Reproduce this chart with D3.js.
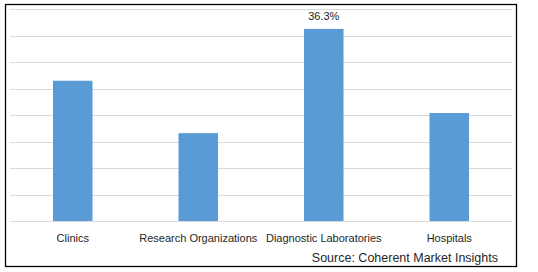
<!DOCTYPE html>
<html>
<head>
<meta charset="utf-8">
<script src="https://cdn.jsdelivr.net/npm/d3@7"></script>
<style>
  body { margin: 0; background: #fff; }
  svg { display: block; }
  text { font-family: "Liberation Sans", Arial, sans-serif; fill: #262626; }
</style>
</head>
<body>
<div id="chart"></div>
<script>
var categories = ["Clinics", "Research Organizations", "Diagnostic Laboratories", "Hospitals"];
var shares = [26.5, 16.6, 36.3, 20.4];
var labelled = [false, false, true, false];
var yTicks = [0, 5, 10, 15, 20, 25, 30, 35, 40];

var width = 538, height = 272;
var plot = { left: 10, right: 512, top: 9.3, bottom: 221 };

var svg = d3.select("#chart").append("svg")
  .attr("width", width)
  .attr("height", height);

svg.append("rect")
  .attr("x", 5.5).attr("y", 4.5)
  .attr("width", 511).attr("height", 262)
  .attr("fill", "#fff")
  .attr("stroke", "#000")
  .attr("stroke-width", 1.3);

var x = d3.scaleBand()
  .domain(categories)
  .range([plot.left, plot.right])
  .paddingInner(0.685)
  .paddingOuter(0.3425);

var y = d3.scaleLinear()
  .domain([0, 40])
  .range([plot.bottom, plot.top]);

// gridlines
svg.append("g")
  .selectAll("line")
  .data(yTicks)
  .enter().append("line")
  .attr("x1", plot.left)
  .attr("x2", plot.right)
  .attr("y1", function (d) { return Math.round(y(d)) + 0.5; })
  .attr("y2", function (d) { return Math.round(y(d)) + 0.5; })
  .attr("stroke", "#d9d9d9")
  .attr("stroke-width", 1);

// bars
svg.append("g")
  .selectAll("rect")
  .data(shares)
  .enter().append("rect")
  .attr("x", function (d, i) { return x(categories[i]); })
  .attr("y", function (d) { return y(d); })
  .attr("width", x.bandwidth())
  .attr("height", function (d) { return y(0) - y(d); })
  .attr("fill", "#5b9bd5");

// value label
svg.append("g")
  .selectAll("text")
  .data(shares.filter(function (d, i) { return labelled[i]; }))
  .enter().append("text")
  .attr("x", function (d) { return x(categories[shares.indexOf(d)]) + x.bandwidth() / 2; })
  .attr("y", function (d) { return y(d) - 9; })
  .attr("text-anchor", "middle")
  .attr("font-size", "11px")
  .text(function (d) { return d.toFixed(1) + "%"; });

// category axis
var xAxis = svg.append("g")
  .attr("transform", "translate(0," + plot.bottom + ")")
  .call(d3.axisBottom(x).tickSize(0).tickPadding(13));
xAxis.select(".domain").remove();
xAxis.selectAll("text")
  .attr("font-size", "11px")
  .style("font-family", "\"Liberation Sans\", Arial, sans-serif")
  .attr("fill", "#262626");

svg.append("text")
  .attr("x", 498)
  .attr("y", 262)
  .attr("text-anchor", "end")
  .attr("font-size", "12.5px")
  .text("Source: Coherent Market Insights");
</script>
</body>
</html>
